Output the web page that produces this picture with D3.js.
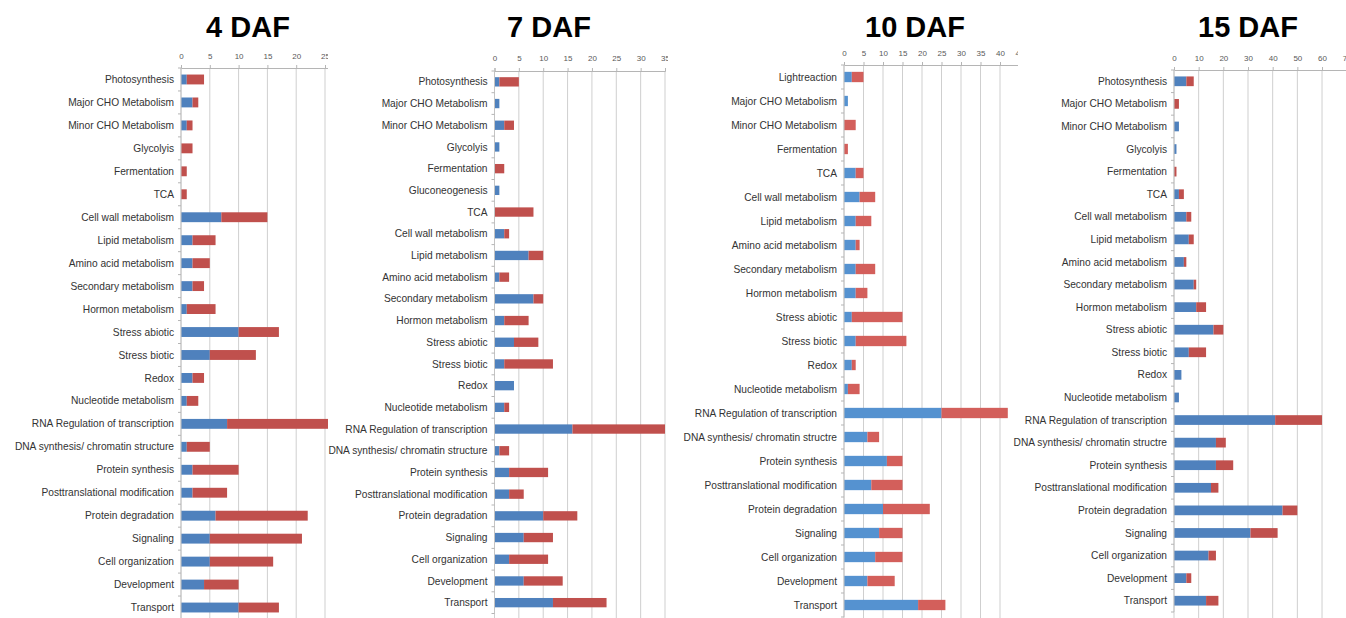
<!DOCTYPE html>
<html>
<head>
<meta charset="utf-8">
<script src="https://cdn.jsdelivr.net/npm/d3@7"></script>
<style>
  body { margin: 0; background: #fff; }
  svg { display: block; }
</style>
</head>
<body>
<svg id="chart" width="1346" height="618"></svg>
<script>
// ---- Gene counts per functional category, four developmental stages ----
// Each bar stacks the "up" count (first segment) and the "down" count (second segment).

const cats4 = ["Photosynthesis", "Major CHO Metabolism", "Minor CHO Metabolism", "Glycolyis",
  "Fermentation", "TCA", "Cell wall metabolism", "Lipid metabolism", "Amino acid metabolism",
  "Secondary metabolism", "Hormon metabolism", "Stress abiotic", "Stress biotic", "Redox",
  "Nucleotide metabolism", "RNA Regulation of transcription", "DNA synthesis/ chromatin structure",
  "Protein synthesis", "Posttranslational modification", "Protein degradation", "Signaling",
  "Cell organization", "Development", "Transport"];
const up4   = [1, 2, 1, 0, 0, 0, 7, 2, 2, 2, 1, 10, 5, 2, 1, 8, 1, 2, 2, 6, 5, 5, 4, 10];
const down4 = [3, 1, 1, 2, 1, 1, 8, 4, 3, 2, 5, 7, 8, 2, 2, 18, 4, 8, 6, 16, 16, 11, 6, 7];
const ticks4 = [0, 5, 10, 15, 20, 25, 30];

const cats7 = ["Photosynthesis", "Major CHO Metabolism", "Minor CHO Metabolism", "Glycolyis",
  "Fermentation", "Gluconeogenesis", "TCA", "Cell wall metabolism", "Lipid metabolism",
  "Amino acid metabolism", "Secondary metabolism", "Hormon metabolism", "Stress abiotic",
  "Stress biotic", "Redox", "Nucleotide metabolism", "RNA Regulation of transcription",
  "DNA synthesis/ chromatin structure", "Protein synthesis", "Posttranslational modification",
  "Protein degradation", "Signaling", "Cell organization", "Development", "Transport"];
const up7   = [1, 1, 2, 1, 0, 1, 0, 2, 7, 1, 8, 2, 4, 2, 4, 2, 16, 1, 3, 3, 10, 6, 3, 6, 12];
const down7 = [4, 0, 2, 0, 2, 0, 8, 1, 3, 2, 2, 5, 5, 10, 0, 1, 19, 2, 8, 3, 7, 6, 8, 8, 11];
const ticks7 = [0, 5, 10, 15, 20, 25, 30, 35];

const cats10 = ["Lightreaction", "Major CHO Metabolism", "Minor CHO Metabolism", "Fermentation",
  "TCA", "Cell wall metabolism", "Lipid metabolism", "Amino acid metabolism",
  "Secondary metabolism", "Hormon metabolism", "Stress abiotic", "Stress biotic", "Redox",
  "Nucleotide metabolism", "RNA Regulation of transcription", "DNA synthesis/ chromatin structre",
  "Protein synthesis", "Posttranslational modification", "Protein degradation", "Signaling",
  "Cell organization", "Development", "Transport"];
const up10   = [2, 1, 0, 0, 3, 4, 3, 3, 3, 3, 2, 3, 2, 1, 25, 6, 11, 7, 10, 9, 8, 6, 19];
const down10 = [3, 0, 3, 1, 2, 4, 4, 1, 5, 3, 13, 13, 1, 3, 17, 3, 4, 8, 12, 6, 7, 7, 7];
const ticks10 = [0, 5, 10, 15, 20, 25, 30, 35, 40, 45];

const cats15 = ["Photosynthesis", "Major CHO Metabolism", "Minor CHO Metabolism", "Glycolyis",
  "Fermentation", "TCA", "Cell wall metabolism", "Lipid metabolism", "Amino acid metabolism",
  "Secondary metabolism", "Hormon metabolism", "Stress abiotic", "Stress biotic", "Redox",
  "Nucleotide metabolism", "RNA Regulation of transcription", "DNA synthesis/ chromatin structre",
  "Protein synthesis", "Posttranslational modification", "Protein degradation", "Signaling",
  "Cell organization", "Development", "Transport"];
const up15   = [5, 0, 2, 1, 0, 2, 5, 6, 4, 8, 9, 16, 6, 3, 2, 41, 17, 17, 15, 44, 31, 14, 5, 13];
const down15 = [3, 2, 0, 0, 1, 2, 2, 2, 1, 1, 4, 4, 7, 0, 0, 19, 4, 7, 3, 6, 11, 3, 2, 5];
const ticks15 = [0, 10, 20, 30, 40, 50, 60, 70];

// ---- Panel layout ----
const panels = [
  { title: "4 DAF",  cats: cats4,  up: up4,  down: down4,  ticks: ticks4,
    titleX: 248, x0: 181, x1: 353.8, clipRight: 328, top: 68, bottom: 619, tickY: 56,
    upColor: "#4f81bd", downColor: "#c0504d" },
  { title: "7 DAF",  cats: cats7,  up: up7,  down: down7,  ticks: ticks7,
    titleX: 549, x0: 494.5, x1: 665, clipRight: 668, top: 71, bottom: 613.5, tickY: 58,
    upColor: "#4f81bd", downColor: "#c0504d" },
  { title: "10 DAF", cats: cats10, up: up10, down: down10, ticks: ticks10,
    titleX: 915, x0: 844, x1: 1019.5, clipRight: 1018, top: 65, bottom: 617, tickY: 53,
    upColor: "#5592d0", downColor: "#d35f5b" },
  { title: "15 DAF", cats: cats15, up: up15, down: down15, ticks: ticks15,
    titleX: 1248, x0: 1174, x1: 1346.7, clipRight: 1346, top: 70, bottom: 612, tickY: 58,
    upColor: "#4f81bd", downColor: "#c0504d" }
];

const svg = d3.select("#chart");
const defs = svg.append("defs");

panels.forEach((p, pi) => {
  const maxV = p.ticks[p.ticks.length - 1];
  const x = d3.scaleLinear().domain([0, maxV]).range([p.x0, p.x1]);
  const y = d3.scaleBand().domain(p.cats).range([p.top, p.bottom])
    .paddingInner(0.57).paddingOuter(0.285);

  const clipId = "clip" + pi;
  defs.append("clipPath").attr("id", clipId)
    .append("rect")
    .attr("x", p.x0 - 40).attr("y", 0)
    .attr("width", p.clipRight - p.x0 + 40).attr("height", 618);

  const g = svg.append("g");

  // Title
  g.append("text")
    .attr("x", p.titleX).attr("y", 37)
    .attr("text-anchor", "middle")
    .attr("font-family", "'Liberation Sans', Arial, sans-serif")
    .attr("font-weight", "bold")
    .attr("font-size", 29)
    .attr("fill", "#000")
    .text(p.title);

  const plot = g.append("g").attr("clip-path", `url(#${clipId})`);

  // Vertical gridlines
  plot.append("g")
    .selectAll("line")
    .data(p.ticks)
    .join("line")
    .attr("x1", d => x(d)).attr("x2", d => x(d))
    .attr("y1", p.top).attr("y2", 618)
    .attr("stroke", "#cfcfcf")
    .attr("stroke-width", 1);

  // Top value axis
  const axis = d3.axisTop(x).tickValues(p.ticks).tickSize(3).tickFormat(d3.format("d"));
  const ax = plot.append("g")
    .attr("transform", `translate(0,${p.top})`)
    .call(axis);
  ax.select(".domain").attr("stroke", "#b5b5b5");
  ax.selectAll(".tick line").attr("stroke", "#b5b5b5");
  ax.selectAll(".tick text")
    .attr("y", p.tickY - p.top)
    .attr("dy", "0.35em")
    .attr("font-family", "'Liberation Sans Narrow', 'Liberation Sans', sans-serif")
    .attr("font-size", 8)
    .attr("fill", "#595959");

  // Category axis: line with tick marks on category boundaries
  const step = y.step();
  g.append("line")
    .attr("x1", p.x0).attr("x2", p.x0)
    .attr("y1", p.top).attr("y2", p.bottom)
    .attr("stroke", "#c4c4c4");
  g.append("g")
    .selectAll("line")
    .data(d3.range(p.cats.length + 1))
    .join("line")
    .attr("x1", p.x0 - 3).attr("x2", p.x0)
    .attr("y1", i => p.top + i * step).attr("y2", i => p.top + i * step)
    .attr("stroke", "#b5b5b5");

  // Category labels
  g.append("g")
    .selectAll("text")
    .data(p.cats)
    .join("text")
    .attr("x", p.x0 - 7)
    .attr("y", d => y(d) + y.bandwidth() / 2)
    .attr("dy", "0.35em")
    .attr("text-anchor", "end")
    .attr("font-family", "'Liberation Sans Narrow', 'Liberation Sans', sans-serif")
    .attr("font-size", 10.2)
    .attr("fill", "#333")
    .text(d => d);

  // Stacked bars
  const rows = p.cats.map((c, i) => ({ cat: c, up: p.up[i], down: p.down[i] }));
  const stack = d3.stack().keys(["up", "down"])(rows);
  const colors = { up: p.upColor, down: p.downColor };

  plot.append("g")
    .selectAll("g")
    .data(stack)
    .join("g")
    .attr("fill", s => colors[s.key])
    .selectAll("rect")
    .data(s => s.filter(d => d[1] > d[0]))
    .join("rect")
    .attr("x", d => x(d[0]))
    .attr("width", d => x(d[1]) - x(d[0]))
    .attr("y", d => y(d.data.cat))
    .attr("height", y.bandwidth());
});
</script>
</body>
</html>
